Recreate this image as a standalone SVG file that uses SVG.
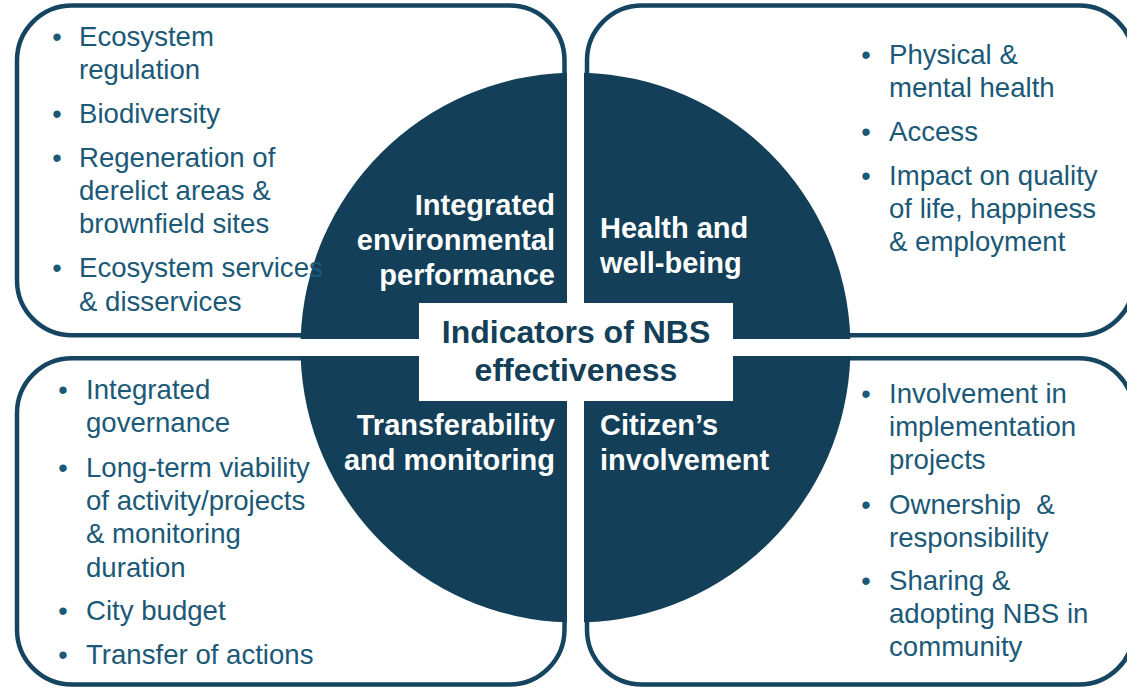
<svg xmlns="http://www.w3.org/2000/svg" width="1127" height="688" viewBox="0 0 1127 688">
<style>
.box{fill:#ffffff;stroke:#154560;stroke-width:4.5}
.q{fill:#134058}
.b{font-family:"Liberation Sans",Arial,sans-serif;font-size:27.6px;fill:#1B5977}
.bt{font-family:"Liberation Sans",Arial,sans-serif;font-size:27px;fill:#1B5977;text-anchor:middle}
.t{font-family:"Liberation Sans",Arial,sans-serif;font-size:29px;font-weight:bold;fill:#ffffff}
.c{font-family:"Liberation Sans",Arial,sans-serif;font-size:32px;font-weight:bold;fill:#134058;text-anchor:middle}
</style>
<rect width="1127" height="688" fill="#ffffff"/>
<g id="box-tl"><rect class="box" x="17" y="5.5" width="547.5" height="329.8" rx="55"/></g>
<g id="box-tr"><rect class="box" x="587" y="5.5" width="547" height="329.8" rx="55"/></g>
<g id="box-bl"><rect class="box" x="17" y="358.3" width="547.5" height="326.2" rx="55"/></g>
<g id="box-br"><rect class="box" x="587" y="358.3" width="547" height="326.2" rx="55"/></g>
<g id="quadrants">
<path class="q" d="M567,339 L300.63,339 A275,275 0 0 1 567,72.63 Z"/>
<path class="q" d="M584,339 L584,72.63 A275,275 0 0 1 850.37,339 Z"/>
<path class="q" d="M584,356 L850.37,356 A275,275 0 0 1 584,622.37 Z"/>
<path class="q" d="M567,356 L567,622.37 A275,275 0 0 1 300.63,356 Z"/>
</g>
<g id="list-tl">
<text class="bt" x="57" y="46">•</text><text class="b" x="79" y="46">Ecosystem</text>
<text class="b" x="79" y="79">regulation</text>
<text class="bt" x="57" y="123">•</text><text class="b" x="79" y="123">Biodiversity</text>
<text class="bt" x="57" y="167">•</text><text class="b" x="79" y="167">Regeneration of</text>
<text class="b" x="79" y="200">derelict areas &amp;</text>
<text class="b" x="79" y="233">brownfield sites</text>
<text class="bt" x="57" y="277">•</text><text class="b" x="79" y="277">Ecosystem services</text>
<text class="b" x="79" y="311">&amp; disservices</text>
</g>
<g id="list-tr">
<text class="bt" x="866" y="64">•</text><text class="b" x="889" y="64">Physical &amp;</text>
<text class="b" x="889" y="97">mental health</text>
<text class="bt" x="866" y="141">•</text><text class="b" x="889" y="141">Access</text>
<text class="bt" x="866" y="185">•</text><text class="b" x="889" y="185">Impact on quality</text>
<text class="b" x="889" y="218">of life, happiness</text>
<text class="b" x="889" y="251">&amp; employment</text>
</g>
<g id="list-bl">
<text class="bt" x="63" y="399">•</text><text class="b" x="86" y="399">Integrated</text>
<text class="b" x="86" y="432">governance</text>
<text class="bt" x="63" y="477">•</text><text class="b" x="86" y="477">Long-term viability</text>
<text class="b" x="86" y="510">of activity/projects</text>
<text class="b" x="86" y="543">&amp; monitoring</text>
<text class="b" x="86" y="577">duration</text>
<text class="bt" x="63" y="620">•</text><text class="b" x="86" y="620">City budget</text>
<text class="bt" x="63" y="664">•</text><text class="b" x="86" y="664">Transfer of actions</text>
</g>
<g id="list-br">
<text class="bt" x="866" y="403">•</text><text class="b" x="889" y="403">Involvement in</text>
<text class="b" x="889" y="436">implementation</text>
<text class="b" x="889" y="469">projects</text>
<text class="bt" x="866" y="514">•</text><text class="b" x="889" y="514" xml:space="preserve">Ownership  &amp;</text>
<text class="b" x="889" y="547">responsibility</text>
<text class="bt" x="866" y="590">•</text><text class="b" x="889" y="590">Sharing &amp;</text>
<text class="b" x="889" y="623">adopting NBS in</text>
<text class="b" x="889" y="656">community</text>
</g>
<g id="title-env" text-anchor="end">
<text class="t" x="555" y="214.5">Integrated</text>
<text class="t" x="555" y="249.5">environmental</text>
<text class="t" x="555" y="284.5">performance</text>
</g>
<g id="title-health">
<text class="t" x="600" y="237.5">Health and</text>
<text class="t" x="600" y="272.5">well-being</text>
</g>
<g id="title-transfer" text-anchor="end">
<text class="t" x="555" y="434.5">Transferability</text>
<text class="t" x="555" y="469.5">and monitoring</text>
</g>
<g id="title-citizen">
<text class="t" x="600" y="434.5">Citizen’s</text>
<text class="t" x="600" y="469.5">involvement</text>
</g>
<g id="center">
<rect x="419" y="303" width="314" height="98" fill="#ffffff"/>
<text class="c" x="576" y="342.5">Indicators of NBS</text>
<text class="c" x="576" y="380.5">effectiveness</text>
</g>
<g id="connectors"/>
</svg>
